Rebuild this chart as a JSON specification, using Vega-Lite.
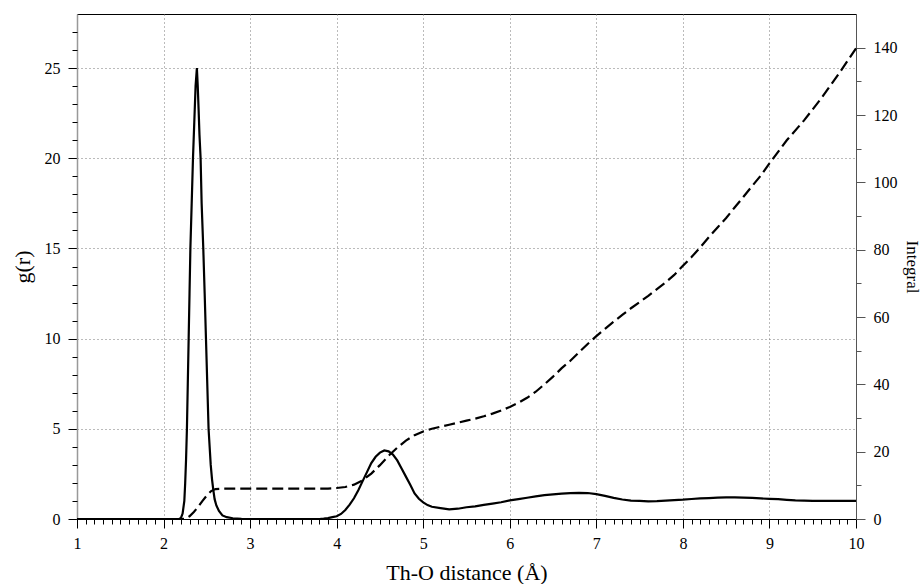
{
  "$schema": "https://vega.github.io/schema/vega-lite/v6.json",
  "width": 779,
  "height": 505,
  "autosize": {"type": "none"},
  "padding": {"left": 77, "top": 14, "right": 66, "bottom": 65},
  "background": "white",
  "config": {
    "view": {"stroke": "black", "strokeWidth": 1},
    "font": "Liberation Serif",
    "axis": {
      "labelFont": "Liberation Serif",
      "titleFont": "Liberation Serif",
      "labelColor": "black",
      "titleColor": "black",
      "titleFontWeight": "normal",
      "labelFontSize": 15,
      "tickColor": "black",
      "domainColor": "black",
      "labelFlush": false,
      "labelOverlap": false
    }
  },
  "datasets": {
    "gr": [
      {"r": 1.0, "g": 0}, {"r": 1.5, "g": 0}, {"r": 2.0, "g": 0}, {"r": 2.18, "g": 0},
      {"r": 2.20, "g": 0.05}, {"r": 2.22, "g": 0.3}, {"r": 2.24, "g": 1.0}, {"r": 2.25, "g": 2.0},
      {"r": 2.26, "g": 3.3}, {"r": 2.27, "g": 5.0}, {"r": 2.28, "g": 7.5}, {"r": 2.29, "g": 10.0},
      {"r": 2.30, "g": 12.5}, {"r": 2.31, "g": 15.0}, {"r": 2.325, "g": 17.5}, {"r": 2.34, "g": 20.0},
      {"r": 2.355, "g": 22.0}, {"r": 2.37, "g": 24.0}, {"r": 2.385, "g": 25.0}, {"r": 2.395, "g": 24.0},
      {"r": 2.405, "g": 22.7}, {"r": 2.415, "g": 21.3}, {"r": 2.428, "g": 20.0}, {"r": 2.44, "g": 17.5},
      {"r": 2.459, "g": 15.0}, {"r": 2.475, "g": 12.5}, {"r": 2.49, "g": 10.0}, {"r": 2.505, "g": 7.5},
      {"r": 2.52, "g": 5.0}, {"r": 2.535, "g": 3.8}, {"r": 2.545, "g": 3.0}, {"r": 2.56, "g": 2.2},
      {"r": 2.575, "g": 1.6}, {"r": 2.59, "g": 1.1}, {"r": 2.61, "g": 0.75}, {"r": 2.64, "g": 0.45},
      {"r": 2.68, "g": 0.2}, {"r": 2.73, "g": 0.1}, {"r": 2.8, "g": 0.04}, {"r": 2.9, "g": 0.01},
      {"r": 3.0, "g": 0}, {"r": 3.5, "g": 0}, {"r": 3.8, "g": 0}, {"r": 3.85, "g": 0.02},
      {"r": 3.9, "g": 0.05}, {"r": 3.95, "g": 0.1}, {"r": 4.0, "g": 0.15}, {"r": 4.05, "g": 0.28},
      {"r": 4.1, "g": 0.5}, {"r": 4.15, "g": 0.8}, {"r": 4.2, "g": 1.15}, {"r": 4.25, "g": 1.6},
      {"r": 4.3, "g": 2.1}, {"r": 4.35, "g": 2.6}, {"r": 4.4, "g": 3.1}, {"r": 4.45, "g": 3.45},
      {"r": 4.5, "g": 3.68}, {"r": 4.55, "g": 3.8}, {"r": 4.6, "g": 3.75}, {"r": 4.65, "g": 3.57},
      {"r": 4.7, "g": 3.25}, {"r": 4.75, "g": 2.8}, {"r": 4.8, "g": 2.35}, {"r": 4.85, "g": 1.9},
      {"r": 4.9, "g": 1.42}, {"r": 4.95, "g": 1.12}, {"r": 5.0, "g": 0.92}, {"r": 5.05, "g": 0.77},
      {"r": 5.1, "g": 0.68}, {"r": 5.2, "g": 0.6}, {"r": 5.3, "g": 0.53}, {"r": 5.4, "g": 0.57},
      {"r": 5.5, "g": 0.65}, {"r": 5.6, "g": 0.7}, {"r": 5.7, "g": 0.78}, {"r": 5.8, "g": 0.85},
      {"r": 5.9, "g": 0.93}, {"r": 6.0, "g": 1.03}, {"r": 6.1, "g": 1.1}, {"r": 6.2, "g": 1.18},
      {"r": 6.3, "g": 1.25}, {"r": 6.4, "g": 1.32}, {"r": 6.5, "g": 1.37}, {"r": 6.6, "g": 1.41},
      {"r": 6.7, "g": 1.44}, {"r": 6.8, "g": 1.45}, {"r": 6.9, "g": 1.44}, {"r": 7.0, "g": 1.38},
      {"r": 7.1, "g": 1.28}, {"r": 7.2, "g": 1.17}, {"r": 7.3, "g": 1.08}, {"r": 7.4, "g": 1.02},
      {"r": 7.5, "g": 1.0}, {"r": 7.6, "g": 0.98}, {"r": 7.7, "g": 0.99}, {"r": 7.8, "g": 1.02},
      {"r": 7.9, "g": 1.05}, {"r": 8.0, "g": 1.07}, {"r": 8.1, "g": 1.11}, {"r": 8.2, "g": 1.14},
      {"r": 8.3, "g": 1.16}, {"r": 8.4, "g": 1.19}, {"r": 8.5, "g": 1.2}, {"r": 8.6, "g": 1.2},
      {"r": 8.7, "g": 1.18}, {"r": 8.8, "g": 1.17}, {"r": 8.9, "g": 1.14}, {"r": 9.0, "g": 1.12},
      {"r": 9.1, "g": 1.1}, {"r": 9.2, "g": 1.06}, {"r": 9.3, "g": 1.03}, {"r": 9.4, "g": 1.02},
      {"r": 9.5, "g": 1.01}, {"r": 9.6, "g": 1.0}, {"r": 9.7, "g": 1.0}, {"r": 9.8, "g": 1.01},
      {"r": 9.9, "g": 1.0}, {"r": 10.0, "g": 1.0}
    ],
    "integral": [
      {"r": 1.0, "n": 0}, {"r": 2.2, "n": 0}, {"r": 2.25, "n": 0.1}, {"r": 2.3, "n": 0.8},
      {"r": 2.35, "n": 2.1}, {"r": 2.4, "n": 3.6}, {"r": 2.45, "n": 5.4}, {"r": 2.5, "n": 7.0},
      {"r": 2.55, "n": 8.3}, {"r": 2.6, "n": 8.9}, {"r": 2.7, "n": 9.0}, {"r": 3.0, "n": 9.0},
      {"r": 3.5, "n": 9.0}, {"r": 3.9, "n": 9.05}, {"r": 4.0, "n": 9.2}, {"r": 4.1, "n": 9.5},
      {"r": 4.2, "n": 10.2}, {"r": 4.3, "n": 11.5}, {"r": 4.4, "n": 13.5}, {"r": 4.5, "n": 16.0},
      {"r": 4.6, "n": 18.8}, {"r": 4.7, "n": 21.2}, {"r": 4.8, "n": 23.3}, {"r": 4.9, "n": 24.9},
      {"r": 5.0, "n": 26.0}, {"r": 5.1, "n": 26.8}, {"r": 5.2, "n": 27.4}, {"r": 5.3, "n": 28.0},
      {"r": 5.4, "n": 28.6}, {"r": 5.5, "n": 29.2}, {"r": 5.6, "n": 29.8}, {"r": 5.7, "n": 30.5},
      {"r": 5.8, "n": 31.3}, {"r": 5.9, "n": 32.2}, {"r": 6.0, "n": 33.3}, {"r": 6.1, "n": 34.5},
      {"r": 6.2, "n": 36.0}, {"r": 6.3, "n": 37.8}, {"r": 6.4, "n": 40.0}, {"r": 6.5, "n": 42.3},
      {"r": 6.6, "n": 44.8}, {"r": 6.7, "n": 47.0}, {"r": 6.8, "n": 49.5}, {"r": 6.9, "n": 52.0},
      {"r": 7.0, "n": 54.3}, {"r": 7.1, "n": 56.5}, {"r": 7.2, "n": 58.6}, {"r": 7.3, "n": 60.6},
      {"r": 7.4, "n": 62.6}, {"r": 7.5, "n": 64.4}, {"r": 7.6, "n": 66.3}, {"r": 7.7, "n": 68.3},
      {"r": 7.8, "n": 70.3}, {"r": 7.9, "n": 72.5}, {"r": 8.0, "n": 75.2}, {"r": 8.1, "n": 77.8},
      {"r": 8.2, "n": 80.7}, {"r": 8.3, "n": 83.7}, {"r": 8.4, "n": 86.6}, {"r": 8.5, "n": 89.4},
      {"r": 8.6, "n": 92.6}, {"r": 8.7, "n": 95.7}, {"r": 8.8, "n": 98.9}, {"r": 8.9, "n": 102.0},
      {"r": 9.0, "n": 105.6}, {"r": 9.2, "n": 112.5}, {"r": 9.4, "n": 118.4}, {"r": 9.6, "n": 125.0},
      {"r": 9.8, "n": 132.2}, {"r": 10.0, "n": 139.8}
    ]
  },
  "layer": [
    {
      "data": {"name": "gr"},
      "mark": {"type": "line", "color": "black", "strokeWidth": 2.2},
      "encoding": {
        "x": {
          "field": "r", "type": "quantitative",
          "scale": {"domain": [1, 10], "nice": false, "zero": false},
          "axis": {
            "orient": "bottom", "values": [1, 2, 3, 4, 5, 6, 7, 8, 9, 10],
            "labelFontSize": 16, "labelFont": "Liberation Serif", "labelColor": "black",
            "title": "Th-O distance (Å)", "titleFontSize": 22, "titleY": 60, "titleBaseline": "alphabetic",
            "tickSize": 9, "labelPadding": 7, "grid": true, "gridDash": [1, 3], "gridColor": "#777", "gridWidth": 1
          }
        },
        "y": {
          "field": "g", "type": "quantitative",
          "scale": {"domain": [0, 28], "nice": false},
          "axis": {
            "orient": "left", "values": [0, 5, 10, 15, 20, 25],
            "labelFontSize": 16, "labelFont": "Liberation Serif", "labelColor": "black",
            "title": "g(r)", "titleFontSize": 22, "titleX": -55, "titleBaseline": "middle",
            "tickSize": 9, "labelPadding": 8, "grid": true, "gridDash": [1, 3], "gridColor": "#777", "gridWidth": 1,
            "domainColor": "#999", "domainWidth": 1.5
          }
        }
      }
    },
    {
      "data": {"name": "integral"},
      "mark": {"type": "line", "color": "black", "strokeWidth": 2.2, "strokeDash": [11, 5]},
      "encoding": {
        "x": {
          "field": "r", "type": "quantitative",
          "scale": {"domain": [1, 10], "nice": false, "zero": false},
          "axis": {
            "orient": "bottom",
            "values": [1.1, 1.2, 1.3, 1.4, 1.5, 1.6, 1.7, 1.8, 1.9, 2.1, 2.2, 2.3, 2.4, 2.5, 2.6, 2.7, 2.8, 2.9, 3.1, 3.2, 3.3, 3.4, 3.5, 3.6, 3.7, 3.8, 3.9, 4.1, 4.2, 4.3, 4.4, 4.5, 4.6, 4.7, 4.8, 4.9, 5.1, 5.2, 5.3, 5.4, 5.5, 5.6, 5.7, 5.8, 5.9, 6.1, 6.2, 6.3, 6.4, 6.5, 6.6, 6.7, 6.8, 6.9, 7.1, 7.2, 7.3, 7.4, 7.5, 7.6, 7.7, 7.8, 7.9, 8.1, 8.2, 8.3, 8.4, 8.5, 8.6, 8.7, 8.8, 8.9, 9.1, 9.2, 9.3, 9.4, 9.5, 9.6, 9.7, 9.8, 9.9],
            "title": null, "labels": false, "domain": false, "grid": false, "tickSize": 5
          }
        },
        "y": {
          "field": "n", "type": "quantitative",
          "scale": {"domain": [0, 150], "nice": false},
          "axis": {
            "orient": "right", "values": [0, 20, 40, 60, 80, 100, 120, 140],
            "labelFontSize": 16, "labelFont": "Liberation Serif", "labelColor": "black",
            "title": "Integral", "titleFontSize": 17, "titleAngle": 90, "titleX": 55, "titleBaseline": "middle",
            "tickSize": 9, "labelPadding": 8, "grid": false,
            "domainColor": "#555", "tickColor": "#555"
          }
        }
      }
    },
    {
      "data": {"name": "gr"},
      "mark": {"type": "line", "color": "black", "strokeWidth": 2.2, "strokeOpacity": 0},
      "encoding": {
        "x": {"field": "r", "type": "quantitative", "scale": {"domain": [1, 10], "nice": false, "zero": false}, "axis": null},
        "y": {
          "field": "g", "type": "quantitative",
          "scale": {"domain": [0, 28], "nice": false},
          "axis": {
            "orient": "left",
            "values": [1, 2, 3, 4, 6, 7, 8, 9, 11, 12, 13, 14, 16, 17, 18, 19, 21, 22, 23, 24, 26, 27],
            "title": null, "labels": false, "domain": false, "grid": false, "tickSize": 5
          }
        }
      }
    },
    {
      "data": {"name": "integral"},
      "mark": {"type": "line", "color": "black", "strokeWidth": 2.2, "strokeOpacity": 0},
      "encoding": {
        "x": {"field": "r", "type": "quantitative", "scale": {"domain": [1, 10], "nice": false, "zero": false}, "axis": null},
        "y": {
          "field": "n", "type": "quantitative",
          "scale": {"domain": [0, 150], "nice": false},
          "axis": {
            "orient": "right", "values": [10, 30, 50, 70, 90, 110, 130],
            "title": null, "labels": false, "domain": false, "grid": false, "tickSize": 5, "tickColor": "#555"
          }
        }
      }
    }
  ],
  "resolve": {"scale": {"y": "independent"}, "axis": {"x": "independent", "y": "independent"}}
}
